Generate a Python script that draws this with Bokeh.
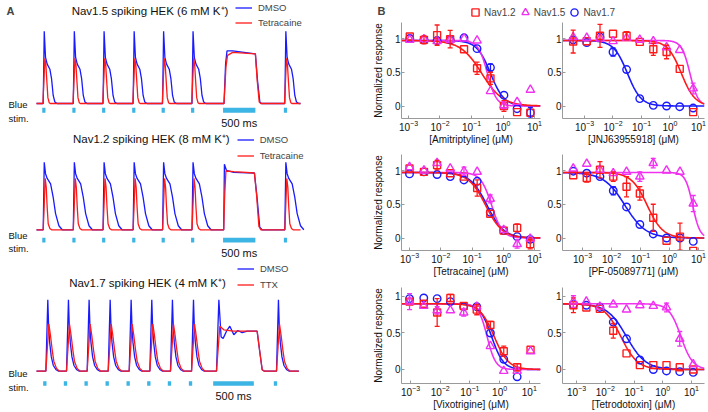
import numpy as np
from bokeh.plotting import figure
from bokeh.layouts import row, column
from bokeh.models import (Label, Legend, LegendItem, Range1d, FixedTicker, Whisker, TeeHead,
                          ColumnDataSource, LogTickFormatter, CustomJSTickFormatter)
from bokeh.embed import file_html
from bokeh.resources import INLINE

FONT = "Liberation Sans"
BLUE = "#1a1aff"
RED = "#ff1a1a"
MAG = "#f032f0"
STIM = "#3cb4e4"

# ---------------- Panel A data (ms, normalised fluorescence) ----------------
stim_on_ab = [90, 560, 1025, 1495, 1955, 2415, 2915, 3865]
stim_dur_ab = [50, 50, 50, 50, 50, 50, 505, 50]
stim_on_c = [82, 336, 590, 849, 1107, 1361, 1615, 1874, 2173, 2919]
stim_dur_c = [41, 41, 41, 41, 41, 41, 41, 41, 500, 41]

nav15_dmso_spike_t = [0, 15, 31, 51, 77, 119, 145, 171, 197, 234]
nav15_dmso_spike_v = [0, 0, 0.99, 0.63, 0.54, 0.47, 0.34, 0.11, 0.02, 0]
nav15_drug_spike_t = [0, 10, 41, 57, 72, 88, 109, 125]
nav15_drug_spike_v = [0, 0, 0.62, 0.52, 0.30, 0.08, 0.01, 0]
nav15_dmso_step_t = [0, 15, 40, 62, 150, 505, 540, 575, 600]
nav15_dmso_step_v = [0, 0, 0.55, 0.72, 0.72, 0.68, 0.30, 0.02, 0]
nav15_drug_step_t = [0, 15, 45, 70, 150, 505, 535, 565, 590]
nav15_drug_step_v = [0, 0, 0.50, 0.66, 0.70, 0.68, 0.30, 0.02, 0]

nav12_dmso_spike_t = [0, 15, 31, 51, 77, 130, 171, 208, 260, 312]
nav12_dmso_spike_v = [0, 0, 1.0, 0.83, 0.76, 0.68, 0.48, 0.24, 0.06, 0]
nav12_drug_spike_t = [0, 15, 46, 62, 77, 93, 119, 145]
nav12_drug_spike_v = [0, 0, 0.76, 0.63, 0.33, 0.09, 0.02, 0]
nav12_dmso_step_t = [0, 10, 21, 52, 167, 490, 531, 573, 609]
nav12_dmso_step_v = [0, 0, 0.97, 0.88, 0.85, 0.84, 0.48, 0.04, 0]
nav12_drug_step_t = [0, 10, 25, 45, 167, 490, 525, 560, 590]
nav12_drug_step_v = [0, 0, 0.50, 0.87, 0.86, 0.84, 0.50, 0.05, 0]

nav17_dmso_spike_t = [0, 33, 57, 68, 80, 100, 125, 160, 190]
nav17_dmso_spike_v = [0, 0, 1.0, 0.60, 0.40, 0.20, 0.08, 0.02, 0]
nav17_drug_spike_t = [0, 33, 70, 90, 111, 131, 164, 200]
nav17_drug_spike_v = [0, 0, 0.66, 0.50, 0.30, 0.14, 0.04, 0]
nav17_dmso_step_t = [0, 41, 70, 98, 123, 164, 205, 254, 303, 357, 418, 541, 570, 603, 630]
nav17_dmso_step_v = [0, 0, 1.0, 0.48, 0.46, 0.56, 0.63, 0.51, 0.57, 0.54, 0.56, 0.56, 0.30, 0.02, 0]
nav17_drug_step_t = [0, 41, 82, 131, 250, 541, 570, 603, 630]
nav17_drug_step_v = [0, 0, 0.63, 0.58, 0.56, 0.56, 0.30, 0.02, 0]

trace_end_ab = 4125
trace_end_c = 3227

# ---------------- Panel B data (uM, normalised response) ----------------
# series order: Nav1.2, Nav1.5, Nav1.7
ami_conc = [0.0011, 0.0031, 0.0081, 0.021, 0.058, 0.15, 0.40, 1.07, 2.8, 7.4]
ami_nav12 = [1.03, 0.98, 1.05, 0.99, 0.84, 0.56, 0.41, 0.00, -0.09, -0.10]
ami_nav12_err = [0.03, 0.06, 0.15, 0.13, 0.03, 0.09, 0.09, 0.08, 0.04, 0.03]
ami_nav15 = [0.98, 0.99, 0.96, 0.98, 1.00, 0.97, 0.22, 0.01, 0.06, 0.24]
ami_nav15_err = [0.04, 0.03, 0.04, 0.03, 0.02, 0.03, 0.04, 0.05, 0.04, 0.02]
ami_nav17 = [1.00, 0.98, 0.97, 0.98, 1.01, 0.85, 0.57, 0.16, -0.04, -0.10]
ami_nav17_err = [0.02, 0.02, 0.02, 0.02, 0.02, 0.03, 0.05, 0.03, 0.03, 0.08]
ami_ic50 = [0.21, 0.32, 0.40]
ami_hill = [1.3, 3.0, 2.0]

jnj_conc = [0.0004, 0.0012, 0.0035, 0.010, 0.030, 0.087, 0.26, 0.76, 2.2, 6.5]
jnj_nav12 = [0.955, 0.96, 1.04, 1.07, 1.04, 0.95, 0.84, 0.80, 0.55, -0.09]
jnj_nav12_err = [0.17, 0.02, 0.17, 0.03, 0.06, 0.03, 0.09, 0.10, 0.03, 0.03]
jnj_nav15 = [1.02, 1.01, 1.00, 0.96, 1.01, 0.98, 0.96, 0.87, 0.83, 0.26]
jnj_nav15_err = [0.03, 0.03, 0.02, 0.02, 0.02, 0.02, 0.02, 0.04, 0.03, 0.08]
jnj_nav17 = [0.98, 0.94, 1.02, 0.80, 0.54, 0.11, 0.01, 0.00, -0.01, -0.03]
jnj_nav17_err = [0.02, 0.02, 0.02, 0.06, 0.03, 0.02, 0.01, 0.01, 0.01, 0.02]
jnj_ic50 = [2.5, 5.0, 0.032]
jnj_hill = [1.8, 3.0, 1.8]

tet_conc = [0.001, 0.0029, 0.0076, 0.020, 0.055, 0.145, 0.38, 1.02, 2.75, 7.2]
tet_nav12 = [1.03, 0.98, 1.08, 0.96, 0.91, 0.74, 0.36, 0.11, 0.15, -0.09]
tet_nav12_err = [0.03, 0.03, 0.07, 0.04, 0.03, 0.12, 0.04, 0.03, 0.06, 0.07]
tet_nav15 = [1.05, 1.00, 1.11, 1.03, 0.99, 0.98, 0.58, 0.12, -0.09, -0.01]
tet_nav15_err = [0.03, 0.03, 0.04, 0.03, 0.06, 0.03, 0.06, 0.03, 0.06, 0.03]
tet_nav17 = [0.95, 0.98, 0.94, 0.91, 0.86, 0.84, 0.38, 0.11, 0.02, -0.02]
tet_nav17_err = [0.03, 0.02, 0.02, 0.02, 0.02, 0.03, 0.03, 0.02, 0.02, 0.02]
tet_ic50 = [0.27, 0.42, 0.30]
tet_hill = [1.6, 2.5, 1.6]

pf_conc = [0.00048, 0.0014, 0.004, 0.0115, 0.033, 0.095, 0.275, 0.79, 2.3, 6.6]
pf_nav12 = [0.93, 0.89, 1.01, 0.91, 0.76, 0.66, 0.30, -0.04, 0.02, -0.19]
pf_nav12_err = [0.03, 0.06, 0.12, 0.07, 0.15, 0.10, 0.20, 0.02, 0.20, 0.03]
pf_nav15 = [1.03, 1.10, 1.01, 0.96, 0.98, 0.91, 1.11, 1.00, 0.98, 0.51]
pf_nav15_err = [0.03, 0.03, 0.02, 0.03, 0.04, 0.07, 0.07, 0.02, 0.02, 0.12]
pf_nav17 = [0.99, 0.96, 0.91, 0.70, 0.46, 0.20, 0.06, 0.00, 0.00, -0.05]
pf_nav17_err = [0.02, 0.02, 0.03, 0.06, 0.02, 0.02, 0.02, 0.02, 0.02, 0.02]
pf_ic50 = [0.17, 6.3, 0.029]
pf_hill = [1.6, 3.5, 1.2]

vix_conc = [0.00093, 0.0028, 0.0079, 0.022, 0.062, 0.17, 0.49, 1.38, 3.9, 11.0]
vix_nav12 = [0.93, 0.90, 0.78, 0.98, 0.87, 0.82, 0.61, 0.25, 0.03, 0.27]
vix_nav12_err = [0.03, 0.03, 0.19, 0.05, 0.03, 0.07, 0.05, 0.07, 0.05, 0.03]
vix_nav15 = [0.93, 0.87, 0.81, 0.81, 0.78, 0.86, 0.32, -0.02, -0.02, 0.25]
vix_nav15_err = [0.11, 0.03, 0.05, 0.04, 0.05, 0.03, 0.04, 0.04, 0.02, 0.03]
vix_conc17 = [0.00093, 0.0028, 0.0079, 0.022, 0.062, 0.17, 0.49, 1.38, 3.9]
vix_nav17 = [0.97, 0.98, 0.97, 0.93, 0.86, 0.86, 0.50, 0.14, -0.10]
vix_nav17_err = [0.02, 0.02, 0.02, 0.02, 0.02, 0.02, 0.03, 0.03, 0.02]
vix_ic50 = [0.66, 0.38, 0.54]
vix_hill = [1.8, 3.0, 2.2]

ttx_conc = [0.00078, 0.0022, 0.0065, 0.019, 0.055, 0.16, 0.47, 1.35, 3.9, 11.5]
ttx_nav12 = [0.88, 0.85, 0.83, 0.53, 0.22, 0.06, 0.06, 0.06, 0.03, 0.00]
ttx_nav12_err = [0.10, 0.03, 0.03, 0.10, 0.03, 0.02, 0.02, 0.03, 0.02, 0.02]
ttx_nav15 = [0.93, 0.93, 0.86, 0.89, 0.82, 0.88, 0.87, 0.85, 0.42, 0.07]
ttx_nav15_err = [0.08, 0.03, 0.02, 0.02, 0.03, 0.02, 0.02, 0.06, 0.10, 0.04]
ttx_nav17 = [0.89, 0.88, 0.85, 0.65, 0.42, 0.13, 0.00, -0.02, -0.03, -0.04]
ttx_nav17_err = [0.03, 0.02, 0.02, 0.03, 0.03, 0.02, 0.02, 0.02, 0.02, 0.02]
ttx_ic50 = [0.035, 4.3, 0.055]
ttx_hill = [1.5, 2.1, 1.3]

top_rows12 = 0.97
top_row3 = 0.90


# ---------------- helpers ----------------
def build_trace(onsets, durs, spike_t, spike_v, step_t, step_v, t_end):
    ts, vs = [0.0], [0.0]
    for on, d in zip(onsets, durs):
        st, sv = (step_t, step_v) if d >= 400 else (spike_t, spike_v)
        for dt, v in zip(st, sv):
            ts.append(on + dt)
            vs.append(v)
    ts.append(max(t_end, ts[-1]))
    vs.append(0.0)
    return ts, vs


def trace_fig(height, xr, yr):
    p = figure(width=360, height=height, x_range=Range1d(*xr), y_range=Range1d(*yr),
               min_border=0, x_axis_location=None, y_axis_location=None,
               output_backend="svg", toolbar_location=None)
    p.grid.grid_line_color = None
    p.outline_line_color = None
    return p


def add_label(p, x, y, text, size="9.5px", align="left", bold=False, xu="screen"):
    p.add_layout(Label(x=x, y=y, x_units=xu, y_units="screen", text=text,
                       text_font=FONT, text_font_size=size, text_align=align,
                       text_baseline="middle", text_color="#111111",
                       text_font_style="bold" if bold else "normal"))


def trace_panel(height, xr, yr, onsets, durs, dm, dr, stim_y, title, title_xy,
                drug_label, legend_loc, legend_spacing, blue_y, stim_y_lab, ms_y):
    p = trace_fig(height, xr, yr)
    t1, v1 = build_trace(onsets, durs, *dm)
    t2, v2 = build_trace(onsets, durs, *dr)
    rb = p.line(t1, v1, line_color=BLUE, line_width=1.3)
    rr = p.line(t2, v2, line_color=RED, line_width=1.3)
    p.quad(left=onsets, right=[o + d for o, d in zip(onsets, durs)],
           bottom=stim_y[0], top=stim_y[1], fill_color=STIM, line_color=None)
    leg = Legend(items=[LegendItem(label="DMSO", renderers=[rb]),
                        LegendItem(label=drug_label, renderers=[rr])],
                 location=legend_loc, orientation="vertical", padding=0, margin=0,
                 spacing=legend_spacing, glyph_width=17, glyph_height=11, label_height=11,
                 label_standoff=6, label_text_font=FONT, label_text_font_size="9.5px",
                 border_line_color=None, background_fill_alpha=0)
    p.add_layout(leg)
    add_label(p, title_xy[0], title_xy[1], title, size="11.5px", align="center")
    add_label(p, 8, blue_y, "Blue")
    add_label(p, 8, stim_y_lab, "stim.")
    li = [i for i, d in enumerate(durs) if d >= 400][0]
    add_label(p, onsets[li] + durs[li] / 2, ms_y, "500 ms", size="11px", align="center", xu="data")
    return p


# ---------------- Panel A ----------------
pa1 = trace_panel(130, (-562.5, 5062.5), (-0.370, 1.411), stim_on_ab, stim_dur_ab,
                  (nav15_dmso_spike_t, nav15_dmso_spike_v, nav15_dmso_step_t, nav15_dmso_step_v, trace_end_ab),
                  (nav15_drug_spike_t, nav15_drug_spike_v, nav15_drug_step_t, nav15_drug_step_v, trace_end_ab),
                  (-0.127, -0.059), "Nav1.5 spiking HEK (6 mM K\u207a)", (149.5, 119.5),
                  "Tetracaine", (235, 102.5), 4, 26, 12.5, 7.3)
pa1.add_layout(Label(x=6, y=126, x_units="screen", y_units="screen", text="A",
                     text_font=FONT, text_font_size="11px", text_font_style="bold",
                     text_baseline="top", text_align="left"))

pa2 = trace_panel(132, (-562.5, 5062.5), (-0.484, 1.469), stim_on_ab, stim_dur_ab,
                  (nav12_dmso_spike_t, nav12_dmso_spike_v, nav12_dmso_step_t, nav12_dmso_step_v, trace_end_ab),
                  (nav12_drug_spike_t, nav12_drug_spike_v, nav12_drug_step_t, nav12_drug_step_v, trace_end_ab),
                  (-0.188, -0.118), "Nav1.2 spiking HEK (8 mM K\u207a)", (150.8, 123.7),
                  "Tetracaine", (236.7, 101.5), 5, 27, 13.7, 9.3)

pa3 = trace_panel(150, (-442.8, 3985.2), (-0.578, 1.522), stim_on_c, stim_dur_c,
                  (nav17_dmso_spike_t, nav17_dmso_spike_v, nav17_dmso_step_t, nav17_dmso_step_v, trace_end_c),
                  (nav17_drug_spike_t, nav17_drug_spike_v, nav17_drug_step_t, nav17_drug_step_v, trace_end_c),
                  (-0.204, -0.140), "Nav1.7 spiking HEK (4 mM K\u207a)", (147, 130),
                  "TTX", (237, 122), 5, 38.7, 24.7, 16.3)

col_a = column(pa1, pa2, pa3, spacing=0)


# ---------------- Panel B ----------------
def dose_fig(series, ic50, hill, top, xlog, ylim, w, h, borders, xlabel, ylabel):
    mbl, mbr, mbt, mbb = borders
    p = figure(width=w, height=h, min_border_left=mbl, min_border_right=mbr,
               min_border_top=mbt, min_border_bottom=mbb, x_axis_type="log",
               x_range=Range1d(10 ** xlog[0], 10 ** xlog[1]), y_range=Range1d(*ylim),
               output_backend="svg", toolbar_location=None)
    p.grid.grid_line_color = None
    p.outline_line_color = None
    xs = np.logspace(xlog[0], xlog[1], 240)
    colors = [RED, MAG, BLUE]
    for k in (2, 1, 0):
        p.line(xs, top / (1.0 + (xs / ic50[k]) ** hill[k]), line_color=colors[k], line_width=1.6)
    markers = [("square", 7, RED), ("triangle", 8.5, MAG), ("circle", 7.5, BLUE)]
    for k in (2, 0, 1):
        c, y, e = series[k]
        mk, sz, col = markers[k]
        sel = [i for i in range(len(y)) if e[i] >= 0.05]
        src = ColumnDataSource(dict(x=[c[i] for i in sel],
                                    lo=[y[i] - e[i] for i in sel],
                                    hi=[y[i] + e[i] for i in sel]))
        p.add_layout(Whisker(source=src, base="x", lower="lo", upper="hi", dimension="height",
                             line_color=col, line_width=1.3, level="glyph",
                             upper_head=TeeHead(size=5, line_color=col, line_width=1.3),
                             lower_head=TeeHead(size=5, line_color=col, line_width=1.3)))
        p.scatter(c, y, marker=mk, size=sz, fill_color=None, line_color=col, line_width=1.4)
    xa, ya = p.xaxis[0], p.yaxis[0]
    xa.ticker = FixedTicker(ticks=[1e-3, 1e-2, 1e-1, 1, 10])
    xa.formatter = LogTickFormatter()
    ya.ticker = FixedTicker(ticks=[0, 0.5, 1])
    ya.formatter = CustomJSTickFormatter(code="return tick.toString();")
    for ax in (xa, ya):
        ax.axis_line_color = "#9a9a9a"
        ax.major_tick_line_color = "#9a9a9a"
        ax.major_tick_in = 3
        ax.major_tick_out = 0
        ax.minor_tick_line_color = None
        ax.major_label_text_font = FONT
        ax.major_label_text_font_size = "10px"
        ax.major_label_text_color = "#111111"
        ax.major_label_standoff = 1
        ax.axis_label_text_font = FONT
        ax.axis_label_text_font_size = "10px"
        ax.axis_label_text_font_style = "normal"
        ax.axis_label_text_color = "#111111"
        ax.axis_label_standoff = 0
    xa.axis_label = xlabel
    if ylabel:
        ya.axis_label = ylabel
    return p


YL = "Normalized response"
LEFT = (41, 2)
RIGHT = (20, 4)
b11 = dose_fig([(ami_conc, ami_nav12, ami_nav12_err), (ami_conc, ami_nav15, ami_nav15_err),
                (ami_conc, ami_nav17, ami_nav17_err)], ami_ic50, ami_hill, top_rows12,
               (-3.222, 1.190), (-0.185, 1.237), 182, 126, LEFT + (0, 30), "[Amitriptyline] (\u03bcM)", YL)
b12 = dose_fig([(jnj_conc, jnj_nav12, jnj_nav12_err), (jnj_conc, jnj_nav15, jnj_nav15_err),
                (jnj_conc, jnj_nav17, jnj_nav17_err)], jnj_ic50, jnj_hill, top_rows12,
               (-3.772, 1.211), (-0.185, 1.237), 166, 126, RIGHT + (0, 30), "[JNJ63955918] (\u03bcM)", None)
b21 = dose_fig([(tet_conc, tet_nav12, tet_nav12_err), (tet_conc, tet_nav15, tet_nav15_err),
                (tet_conc, tet_nav17, tet_nav17_err)], tet_ic50, tet_hill, top_rows12,
               (-3.256, 1.185), (-0.185, 1.237), 182, 132, LEFT + (6, 30), "[Tetracaine] (\u03bcM)", YL)
b22 = dose_fig([(pf_conc, pf_nav12, pf_nav12_err), (pf_conc, pf_nav15, pf_nav15_err),
                (pf_conc, pf_nav17, pf_nav17_err)], pf_ic50, pf_hill, top_rows12,
               (-3.690, 1.207), (-0.185, 1.237), 166, 132, RIGHT + (6, 30), "[PF-05089771] (\u03bcM)", None)
b31 = dose_fig([(vix_conc, vix_nav12, vix_nav12_err), (vix_conc, vix_nav15, vix_nav15_err),
                (vix_conc17, vix_nav17, vix_nav17_err)], vix_ic50, vix_hill, top_row3,
               (-3.303, 1.377), (-0.192, 1.123), 182, 132, LEFT + (7, 29), "[Vixotrigine] (\u03bcM)", YL)
b32 = dose_fig([(ttx_conc, ttx_nav12, ttx_nav12_err), (ttx_conc, ttx_nav15, ttx_nav15_err),
                (ttx_conc, ttx_nav17, ttx_nav17_err)], ttx_ic50, ttx_hill, top_row3,
               (-3.487, 1.452), (-0.192, 1.123), 166, 132, RIGHT + (7, 29), "[Tetrodotoxin] (\u03bcM)", None)

# header with panel letter and legend
hdr = figure(width=348, height=22, x_range=Range1d(0, 1), y_range=Range1d(0, 1), min_border=0,
             x_axis_location=None, y_axis_location=None, output_backend="svg", toolbar_location=None)
hdr.grid.grid_line_color = None
hdr.outline_line_color = None
nan = np.array([np.nan])
h1 = hdr.scatter(nan, nan, marker="square", size=7, fill_color=None, line_color=RED, line_width=1.4)
h2 = hdr.scatter(nan, nan, marker="triangle", size=8, fill_color=None, line_color=MAG, line_width=1.4)
h3 = hdr.scatter(nan, nan, marker="circle", size=7, fill_color=None, line_color=BLUE, line_width=1.4)
hdr.add_layout(Legend(items=[LegendItem(label="Nav1.2", renderers=[h1]),
                             LegendItem(label="Nav1.5", renderers=[h2]),
                             LegendItem(label="Nav1.7", renderers=[h3])],
                      location=(106, 1), orientation="horizontal", padding=0, margin=0, spacing=0,
                      glyph_width=18, glyph_height=18, label_height=18, label_standoff=0,
                      label_text_font=FONT, label_text_font_size="10px",
                      border_line_color=None, background_fill_alpha=0))
hdr.add_layout(Label(x=17, y=18, x_units="screen", y_units="screen", text="B", text_font=FONT,
                     text_font_size="11px", text_font_style="bold", text_baseline="top"))

col_b = column(hdr, row(b11, b12, spacing=0), row(b21, b22, spacing=0), row(b31, b32, spacing=0), spacing=0)
layout = row(col_a, col_b, spacing=0)

open("out.html", "w").write(file_html(layout, INLINE))
